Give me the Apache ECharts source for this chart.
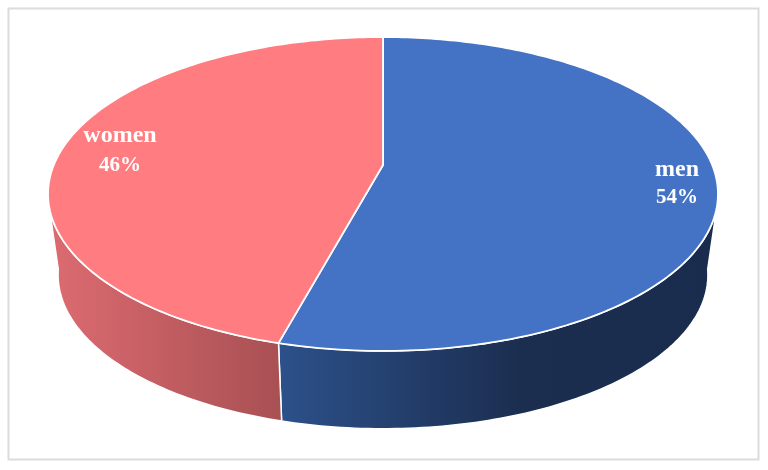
<!DOCTYPE html>
<html>
<head>
<meta charset="utf-8">
<style>
  html, body { margin: 0; padding: 0; background: #fff; }
  #chart { width: 768px; height: 470px; }
</style>
<script src="https://cdn.jsdelivr.net/npm/echarts@6/dist/echarts.min.js"></script>
</head>
<body>
<div id="chart"></div>
<script>
const categories = ['men', 'women'];
const shares = [54.2, 45.8]; // labels show these rounded

const topColors = ['#4472c4', '#ff7c80'];
// wall shading, stops listed left to right
const wallStops = [
  [[0, '#2c5089'], [0.55, '#1b2e50'], [1, '#1a2c4e']],
  [[0, '#dc6b71'], [1, '#a85053']]
];
const wallRange = [[282, 716], [50, 282]];
const labelAt = [[677, 170, 198], [120, 136, 166]];

// perspective disc: the far side is squeezed, so the apex sits above the ellipse centre
const disc = { x: 383, y: 165, a: 329.2, b: 151.6, k: 0.1847 };
const floor = { x: 383, y: 246.5, a: 329.2 * 0.97, b: 151.6 * 0.98, k: 0.1847 };
const rimLimit = 105;     // where the wall leaves the top rim, degrees from the top
const floorLimit = 98.6;  // where it lands on the floor rim

function rimPoint(deg, e) {
  const t = deg * Math.PI / 180;
  const w = 1 + e.k * Math.cos(t);
  return [e.x + e.a * Math.sin(t) / w, e.y - e.b * Math.cos(t) / w];
}

function arcPoints(from, to, e) {
  const pts = [];
  const n = Math.max(2, Math.ceil(Math.abs(to - from)));
  for (let i = 0; i <= n; i++) {
    pts.push(rimPoint(from + (to - from) * i / n, e));
  }
  return pts;
}

function renderSlice(params, api) {
  const i = params.dataIndex;
  const start = api.value(0) * 3.6;
  const end = api.value(1) * 3.6;
  const children = [];

  // wall only for the visible front part of the rim
  const upper = arcPoints(Math.max(start, rimLimit), Math.min(end, 360 - rimLimit), disc);
  const lower = arcPoints(Math.max(start, floorLimit), Math.min(end, 360 - floorLimit), floor).reverse();
  children.push({
    type: 'polygon',
    shape: { points: upper.concat(lower) },
    style: {
      fill: new echarts.graphic.LinearGradient(
        wallRange[i][0], 0, wallRange[i][1], 0,
        wallStops[i].map(s => ({ offset: s[0], color: s[1] })),
        true
      ),
      stroke: '#fff',
      lineWidth: 1.5
    }
  });

  children.push({
    type: 'polygon',
    shape: { points: [[disc.x, disc.y]].concat(arcPoints(start, end, disc)) },
    style: { fill: topColors[i], stroke: '#fff', lineWidth: 1.8, lineJoin: 'round' }
  });

  children.push({
    type: 'text',
    style: {
      text: categories[i],
      x: labelAt[i][0], y: labelAt[i][1],
      align: 'center', verticalAlign: 'middle',
      fill: '#fff',
      font: 'bold 24px "Liberation Serif"'
    }
  });
  children.push({
    type: 'text',
    style: {
      text: Math.round(shares[i]) + '%',
      x: labelAt[i][0], y: labelAt[i][2],
      align: 'center', verticalAlign: 'middle',
      fill: '#fff',
      font: 'bold 21px "Liberation Serif"'
    }
  });

  return { type: 'group', children: children };
}

// cumulative start/end for every slice
let running = 0;
const sliceData = shares.map((v, i) => {
  const row = { name: categories[i], value: [running, running + v] };
  running += v;
  return row;
});

const chart = echarts.init(document.getElementById('chart'), null, { renderer: 'canvas' });
chart.setOption({
  animation: false,
  backgroundColor: '#fff',
  graphic: [{
    type: 'rect',
    z: -1,
    shape: { x: 8.5, y: 8.5, width: 750, height: 451 },
    style: { fill: '#fff', stroke: '#dcdcdc', lineWidth: 2 }
  }],
  series: [{
    type: 'custom',
    coordinateSystem: 'none',
    renderItem: renderSlice,
    data: sliceData,
    silent: true
  }]
});
</script>
</body>
</html>
